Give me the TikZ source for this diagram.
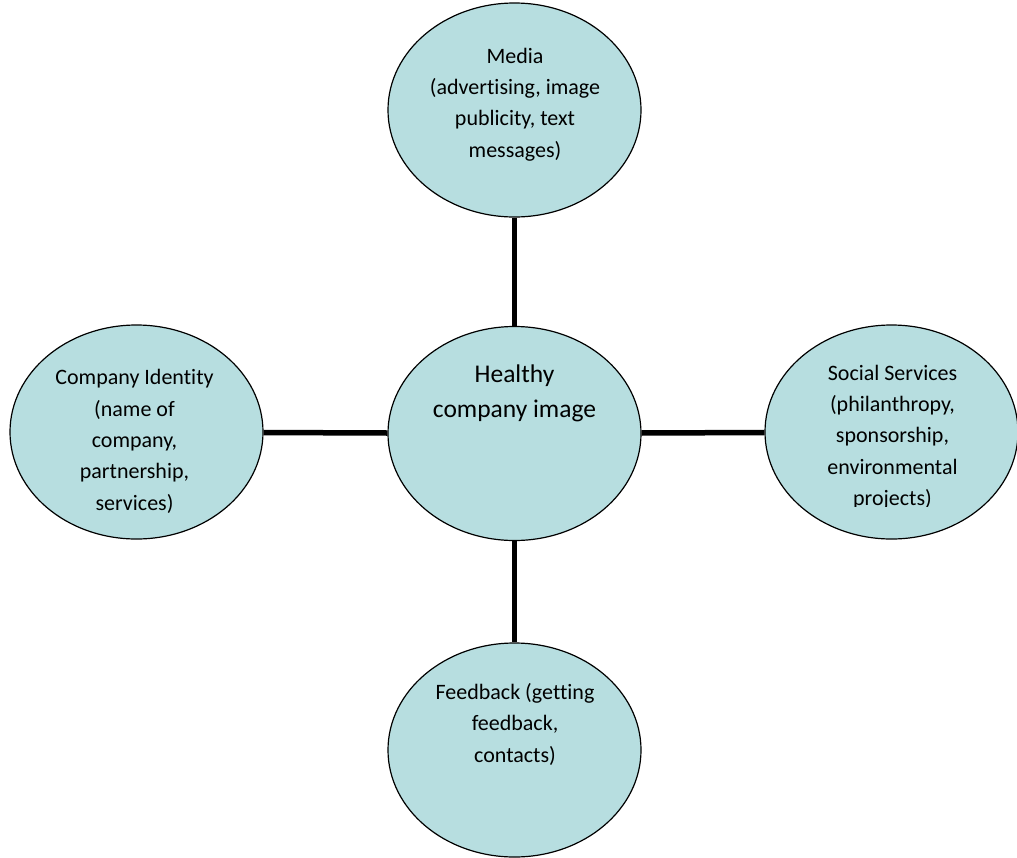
\documentclass[tikz,border=0pt]{standalone}
\usepackage{fontspec}
\setmainfont{Carlito}[Ligatures=NoCommon]
\usetikzlibrary{shapes.geometric}
\definecolor{bubblefill}{HTML}{B7DEE0}

\begin{document}
\begin{tikzpicture}[
    x=1pt, y=-1pt,
    bubble/.style={ellipse, draw, fill=bubblefill, line width=1.2pt, minimum width=253pt, minimum height=214pt, inner sep=0pt},
    txt/.style={align=center, anchor=base, inner sep=0pt, font=\fontsize{22}{31.3}\selectfont},
    link/.style={line width=5.5pt}
  ]
  \useasboundingbox (0,0) rectangle (1017,857);

  % the five ellipses
  \node[bubble] (hub) at (514.5,433.5) {};
  \node[bubble] (media) at (514.5,110) {};
  \node[bubble] (identity) at (136.5,432) {};
  \node[bubble] (social) at (891.5,432) {};
  \node[bubble] (feedback) at (514.5,750) {};

  % spokes
  \draw[link] (media) -- (hub);
  \draw[link] (identity) -- (hub);
  \draw[link] (hub) -- (social);
  \draw[link] (hub) -- (feedback);

  % labels (base = baseline of the last line)
  \node[txt, font=\fontsize{25.5}{34.6}\selectfont] (hubText) at (514.5,417) {Healthy\\company image};
  \node[txt] (mediaText) at (515,157) {Media\\(advertising, image\\publicity, text\\messages)};
  \node[txt] (identityText) at (134.5,510) {Company Identity\\(name of\\company,\\partnership,\\services)};
  % text box cuts off the last line
  \begin{scope}
    \clip (760,330) rectangle (1017,506.5);
    \node[txt] (socialText) at (892.5,505.5) {Social Services\\(philanthropy,\\sponsorship,\\environmental\\projects)};
  \end{scope}
  \node[txt] (feedbackText) at (515,762) {Feedback (getting\\feedback,\\contacts)};
\end{tikzpicture}
\end{document}
